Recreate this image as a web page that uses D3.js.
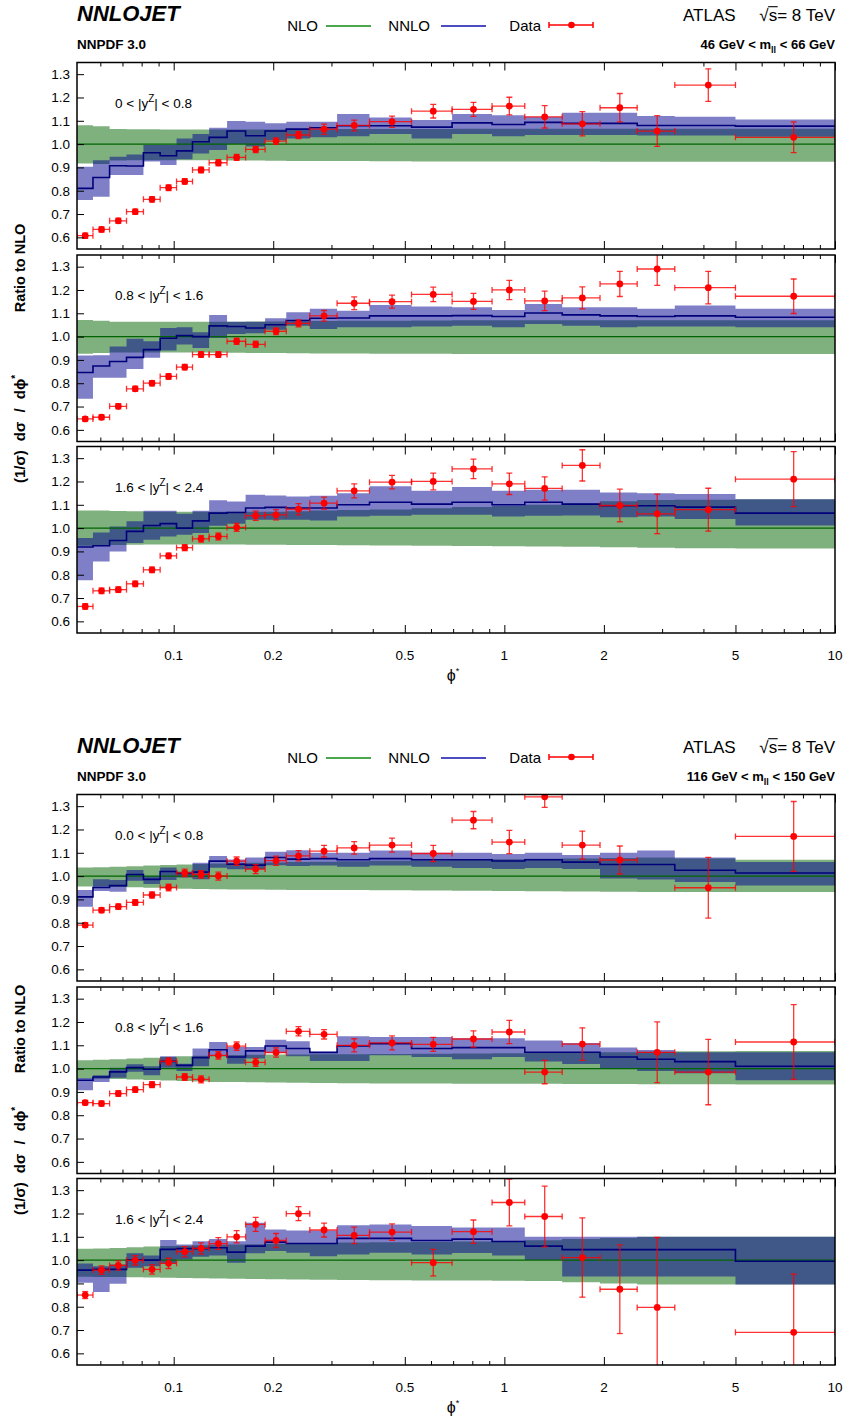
<!DOCTYPE html>
<html><head><meta charset="utf-8">
<script src="https://cdn.jsdelivr.net/npm/d3@7"></script>
<style>
body{margin:0;background:#fff}
svg text{font-family:"Liberation Sans",Arial,Helvetica,sans-serif;fill:#000}
</style>
</head><body>
<svg id="chart" width="845" height="1420"></svg>
<script>
// phi* bin edges (ATLAS 8 TeV binning, visible range)
const binEdges = [0.051,0.057,0.064,0.072,0.081,0.091,0.102,0.114,0.128,0.145,0.165,0.189,0.219,0.258,0.312,0.391,0.524,0.695,0.918,1.153,1.496,1.947,2.522,3.277,5,10];

const xMajorTicks = [0.1,0.2,0.5,1,2,5,10];
const xMinorTicks = [0.06,0.07,0.08,0.09,0.3,0.4,0.6,0.7,0.8,0.9,3,4,6,7,8,9];
const xTickLabels = ["0.1","0.2","0.5","1","2","5","10"];
const yTicks = [0.6,0.7,0.8,0.9,1.0,1.1,1.2,1.3];

const massLabels = [["46","66"],["116","150"]];
const rapLabels = [["0","0.8"],["0.8","1.6"],["1.6","2.4"],["0.0","0.8"],["0.8","1.6"],["1.6","2.4"]];

// ---- 46 GeV < mll < 66 GeV, 0 < |y| < 0.8
const a1NloUp = [1.081,1.077,1.065,1.064,1.064,1.063,1.063,1.063,1.063,1.063,1.063,1.063,1.063,1.064,1.065,1.065,1.065,1.066,1.066,1.066,1.066,1.066,1.066,1.066,1.066];
const a1NloDn = [0.917,0.915,0.930,0.931,0.931,0.931,0.931,0.931,0.931,0.930,0.930,0.929,0.928,0.928,0.927,0.926,0.925,0.925,0.925,0.925,0.925,0.924,0.924,0.924,0.924];
const a1Nnlo   = [0.810,0.857,0.907,0.906,0.963,0.950,0.971,1.010,1.029,1.056,1.036,1.056,1.064,1.070,1.079,1.079,1.073,1.091,1.084,1.093,1.089,1.089,1.080,1.080,1.077];
const a1NnloUp = [0.903,0.931,0.946,0.955,0.996,0.996,1.024,1.043,1.070,1.099,1.096,1.089,1.096,1.096,1.129,1.114,1.103,1.129,1.124,1.117,1.134,1.134,1.120,1.117,1.106];
const a1NnloDn = [0.760,0.774,0.867,0.867,0.925,0.910,0.935,0.960,0.975,1.000,0.990,1.017,1.024,1.029,1.034,1.043,1.024,1.043,1.034,1.039,1.039,1.039,1.037,1.037,1.031];
const a1Data   = [0.607,0.634,0.671,0.710,0.763,0.813,0.840,0.889,0.920,0.943,0.977,1.013,1.039,1.064,1.080,1.096,1.141,1.149,1.163,1.117,1.087,1.156,1.056,1.253,1.029];
const a1Err    = [0.011,0.011,0.011,0.011,0.012,0.012,0.012,0.012,0.013,0.013,0.013,0.014,0.015,0.022,0.023,0.024,0.029,0.030,0.038,0.048,0.052,0.061,0.066,0.070,0.066];

// ---- 46 GeV < mll < 66 GeV, 0.8 < |y| < 1.6
const a2NloUp = [1.071,1.068,1.064,1.064,1.064,1.064,1.064,1.064,1.064,1.064,1.065,1.065,1.066,1.067,1.068,1.068,1.069,1.070,1.070,1.070,1.070,1.070,1.070,1.070,1.070];
const a2NloDn = [0.926,0.930,0.932,0.932,0.932,0.932,0.932,0.932,0.931,0.931,0.930,0.930,0.929,0.928,0.927,0.926,0.926,0.925,0.925,0.925,0.925,0.925,0.925,0.925,0.925];
const a2Nnlo   = [0.846,0.874,0.893,0.911,0.944,0.993,1.004,1.000,1.046,1.043,1.037,1.051,1.069,1.079,1.080,1.089,1.089,1.090,1.086,1.101,1.093,1.089,1.086,1.089,1.083];
const a2NnloUp = [0.919,0.920,0.957,0.991,0.980,1.037,1.040,1.019,1.093,1.064,1.064,1.079,1.104,1.119,1.111,1.136,1.129,1.126,1.114,1.140,1.126,1.126,1.119,1.133,1.119];
const a2NnloDn = [0.733,0.823,0.823,0.861,0.909,0.940,0.966,0.951,0.994,1.011,1.014,1.029,1.047,1.033,1.040,1.040,1.043,1.047,1.040,1.054,1.046,1.040,1.043,1.043,1.040];
const a2Data   = [0.647,0.654,0.701,0.776,0.800,0.829,0.869,0.923,0.923,0.980,0.967,1.023,1.057,1.089,1.143,1.150,1.181,1.151,1.200,1.153,1.166,1.226,1.290,1.210,1.173];
const a2Err    = [0.010,0.010,0.011,0.011,0.011,0.012,0.012,0.012,0.012,0.013,0.013,0.014,0.015,0.023,0.027,0.028,0.031,0.034,0.041,0.042,0.047,0.054,0.070,0.070,0.074];

// ---- 46 GeV < mll < 66 GeV, 1.6 < |y| < 2.4
const a3NloUp = [1.076,1.075,1.073,1.072,1.070,1.070,1.070,1.070,1.070,1.070,1.070,1.070,1.072,1.075,1.078,1.080,1.085,1.090,1.095,1.100,1.105,1.115,1.120,1.122,1.124];
const a3NloDn = [0.924,0.926,0.928,0.929,0.930,0.930,0.930,0.930,0.930,0.930,0.929,0.929,0.928,0.927,0.926,0.925,0.924,0.923,0.922,0.921,0.920,0.918,0.916,0.914,0.912];
const a3Nnlo   = [0.919,0.924,0.947,0.986,1.011,1.019,1.000,1.031,1.064,1.067,1.086,1.089,1.086,1.086,1.100,1.111,1.103,1.111,1.100,1.111,1.103,1.096,1.096,1.090,1.064];
const a3NnloUp = [0.957,0.981,1.007,1.029,1.074,1.074,1.061,1.074,1.119,1.114,1.143,1.140,1.136,1.139,1.150,1.179,1.160,1.176,1.160,1.164,1.164,1.153,1.150,1.146,1.124];
const a3NnloDn = [0.776,0.857,0.900,0.936,0.950,0.964,0.971,0.979,1.010,1.019,1.036,1.036,1.036,1.033,1.050,1.053,1.057,1.057,1.050,1.053,1.054,1.046,1.050,1.039,1.011];
const a3Data   = [0.664,0.731,0.736,0.761,0.821,0.881,0.916,0.954,0.964,1.003,1.053,1.057,1.081,1.107,1.160,1.197,1.200,1.254,1.190,1.170,1.269,1.097,1.061,1.079,1.210];
const a3Err    = [0.012,0.012,0.012,0.012,0.012,0.012,0.013,0.014,0.015,0.017,0.020,0.022,0.024,0.026,0.030,0.029,0.036,0.042,0.046,0.050,0.067,0.070,0.085,0.092,0.118];

// ---- 116 GeV < mll < 150 GeV, 0 < |y| < 0.8
const b1NloUp = [1.037,1.038,1.040,1.042,1.045,1.048,1.050,1.052,1.054,1.056,1.057,1.058,1.060,1.062,1.064,1.066,1.068,1.070,1.072,1.074,1.076,1.078,1.080,1.075,1.070];
const b1NloDn = [0.955,0.955,0.953,0.952,0.950,0.948,0.946,0.945,0.944,0.943,0.942,0.941,0.940,0.940,0.940,0.939,0.938,0.937,0.936,0.935,0.934,0.933,0.932,0.932,0.932];
const b1Nnlo   = [0.911,0.951,0.959,1.007,0.986,1.020,1.011,1.017,1.064,1.051,1.047,1.080,1.073,1.075,1.070,1.075,1.070,1.070,1.065,1.070,1.060,1.050,1.050,1.025,1.013];
const b1NnloUp = [0.940,0.986,0.983,1.026,1.000,1.037,1.019,1.057,1.086,1.071,1.080,1.104,1.111,1.100,1.100,1.110,1.100,1.100,1.095,1.100,1.090,1.100,1.110,1.080,1.060];
const b1NnloDn = [0.869,0.936,0.933,0.980,0.966,0.983,0.994,0.986,1.036,1.029,1.029,1.047,1.043,1.045,1.040,1.045,1.040,1.035,1.030,1.035,1.030,0.990,0.985,0.975,0.960];
const b1Data   = [0.790,0.854,0.869,0.887,0.919,0.951,1.014,1.007,1.000,1.064,1.030,1.066,1.087,1.107,1.121,1.133,1.097,1.240,1.146,1.340,1.133,1.069,null,0.950,1.170];
const b1Err    = [0.010,0.011,0.012,0.012,0.013,0.014,0.016,0.016,0.017,0.018,0.019,0.020,0.022,0.025,0.027,0.030,0.035,0.037,0.050,0.045,0.060,0.060,0.080,0.130,0.150];

// ---- 116 GeV < mll < 150 GeV, 0.8 < |y| < 1.6
const b2NloUp = [1.036,1.038,1.040,1.043,1.046,1.050,1.053,1.055,1.057,1.058,1.059,1.060,1.060,1.061,1.062,1.063,1.064,1.065,1.066,1.067,1.068,1.070,1.072,1.074,1.076];
const b2NloDn = [0.957,0.956,0.955,0.953,0.951,0.949,0.947,0.945,0.943,0.942,0.941,0.940,0.939,0.938,0.937,0.936,0.936,0.935,0.935,0.935,0.934,0.934,0.933,0.933,0.932];
const b2Nnlo   = [0.950,0.964,0.986,1.004,0.997,1.031,1.014,1.047,1.081,1.050,1.076,1.097,1.086,1.069,1.097,1.107,1.086,1.090,1.090,1.070,1.070,1.050,1.040,1.030,1.010];
const b2NnloUp = [0.960,0.971,1.004,1.019,1.010,1.053,1.021,1.086,1.114,1.093,1.093,1.124,1.117,1.074,1.139,1.136,1.136,1.130,1.130,1.120,1.110,1.090,1.080,1.070,1.070];
const b2NnloDn = [0.907,0.943,0.961,0.986,0.971,1.004,0.990,1.010,1.053,1.021,1.043,1.067,1.053,1.033,1.033,1.057,1.050,1.040,1.050,1.030,1.020,1.000,0.990,0.980,0.950];
const b2Data   = [0.854,0.850,0.893,0.910,0.931,1.031,0.964,0.954,1.057,1.096,1.027,1.069,1.160,1.147,1.100,1.110,1.104,1.127,1.157,0.985,1.105,null,1.070,0.985,1.114];
const b2Err    = [0.010,0.011,0.012,0.012,0.013,0.015,0.014,0.015,0.016,0.018,0.017,0.020,0.020,0.020,0.028,0.030,0.030,0.035,0.050,0.050,0.070,0.070,0.130,0.140,0.160];

// ---- 116 GeV < mll < 150 GeV, 1.6 < |y| < 2.4
const b3NloUp = [1.049,1.050,1.052,1.055,1.058,1.060,1.062,1.064,1.066,1.067,1.068,1.070,1.072,1.073,1.075,1.077,1.078,1.080,1.082,1.085,1.090,1.095,1.100,1.100,1.100];
const b3NloDn = [0.929,0.928,0.927,0.926,0.925,0.924,0.923,0.922,0.921,0.920,0.919,0.918,0.917,0.916,0.915,0.914,0.913,0.912,0.911,0.910,0.905,0.900,0.895,0.895,0.895];
const b3Nnlo   = [0.957,0.960,0.960,1.000,1.000,1.046,1.049,1.049,1.053,1.034,1.060,1.077,1.071,1.071,1.093,1.093,1.084,1.090,1.080,1.060,1.045,1.045,1.045,1.045,0.995];
const b3NnloUp = [0.985,0.974,0.981,1.029,1.020,1.086,1.067,1.081,1.091,1.081,1.160,1.131,1.127,1.127,1.149,1.153,1.146,1.140,1.140,1.100,1.100,1.100,1.100,1.100,1.100];
const b3NnloDn = [0.903,0.863,0.899,0.967,0.974,0.984,1.003,1.014,1.020,0.989,1.029,1.039,1.031,1.017,1.024,1.031,1.024,1.030,1.020,1.000,0.930,0.930,0.930,0.930,0.895];
const b3Data   = [0.850,0.957,0.977,0.999,0.960,0.986,1.036,1.050,1.071,1.100,1.153,1.084,1.199,1.129,1.106,1.120,0.989,1.122,1.247,1.187,1.011,0.875,0.797,null,0.690];
const b3Err    = [0.015,0.018,0.020,0.020,0.020,0.022,0.022,0.024,0.025,0.026,0.030,0.030,0.030,0.030,0.035,0.035,0.057,0.050,0.100,0.130,0.170,0.190,0.300,0.300,0.250];

const panelSets = [
  {fig:0,row:0,nloUp:a1NloUp,nloDn:a1NloDn,nnlo:a1Nnlo,nnloUp:a1NnloUp,nnloDn:a1NnloDn,data:a1Data,err:a1Err},
  {fig:0,row:1,nloUp:a2NloUp,nloDn:a2NloDn,nnlo:a2Nnlo,nnloUp:a2NnloUp,nnloDn:a2NnloDn,data:a2Data,err:a2Err},
  {fig:0,row:2,nloUp:a3NloUp,nloDn:a3NloDn,nnlo:a3Nnlo,nnloUp:a3NnloUp,nnloDn:a3NnloDn,data:a3Data,err:a3Err},
  {fig:1,row:0,nloUp:b1NloUp,nloDn:b1NloDn,nnlo:b1Nnlo,nnloUp:b1NnloUp,nnloDn:b1NnloDn,data:b1Data,err:b1Err},
  {fig:1,row:1,nloUp:b2NloUp,nloDn:b2NloDn,nnlo:b2Nnlo,nnloUp:b2NnloUp,nnloDn:b2NnloDn,data:b2Data,err:b2Err},
  {fig:1,row:2,nloUp:b3NloUp,nloDn:b3NloDn,nnlo:b3Nnlo,nnloUp:b3NnloUp,nnloDn:b3NnloDn,data:b3Data,err:b3Err}
];

// ---------- layout ----------
const svg = d3.select("#chart");
const L = 77, R = 835, PH = 186.5;
const rowTop = [62.5, 255, 446.5];
const figTop = [0, 732];
const x = d3.scaleLog().domain([0.051, 10]).range([L, R]);
const nBins = binEdges.length - 1;

const COL_NLO = "rgb(0,100,0)", COL_NNLO = "rgb(0,0,145)";
const LINE_NLO = "#006400", LINE_NNLO = "#00007a", RED = "#ff0000";

const defs = svg.append("defs");

function stepRows(arrs) {
  return binEdges.map((e, i) => {
    const j = Math.min(i, nBins - 1);
    const o = {e};
    for (const k in arrs) o[k] = arrs[k][j];
    return o;
  });
}

panelSets.forEach((p, k) => {
  const top = figTop[p.fig] + rowTop[p.row];
  const y = d3.scaleLinear().domain([0.55, 1.35]).range([top + PH, top]);
  const clipId = "clip" + k;
  defs.append("clipPath").attr("id", clipId)
    .append("rect").attr("x", L).attr("y", top).attr("width", R - L).attr("height", PH);

  const body = svg.append("g").attr("clip-path", `url(#${clipId})`);
  const area = d3.area().curve(d3.curveStepAfter)
    .x(d => x(d.e)).y0(d => y(d.dn)).y1(d => y(d.up));
  const step = d3.line().curve(d3.curveStepAfter).x(d => x(d.e)).y(d => y(d.v));

  // NLO scale band
  body.append("path").datum(stepRows({up: p.nloUp, dn: p.nloDn}))
    .attr("d", area).attr("fill", COL_NLO).attr("fill-opacity", 0.5);
  // NNLO scale band
  body.append("path").datum(stepRows({up: p.nnloUp, dn: p.nnloDn}))
    .attr("d", area).attr("fill", COL_NNLO).attr("fill-opacity", 0.5);
  // NLO central (ratio = 1)
  body.append("path").datum(stepRows({v: p.nloUp.map(() => 1)}))
    .attr("d", step).attr("fill", "none").attr("stroke", LINE_NLO).attr("stroke-width", 1.3);
  // NNLO central
  body.append("path").datum(stepRows({v: p.nnlo}))
    .attr("d", step).attr("fill", "none").attr("stroke", LINE_NNLO).attr("stroke-width", 1.6);

  // data with error bars
  const pts = p.data.map((v, i) => ({v, e: p.err[i], lo: binEdges[i], hi: binEdges[i + 1]}))
    .filter(d => d.v !== null);
  const dg = body.selectAll("g.pt").data(pts).join("g").attr("class", "pt")
    .attr("stroke", RED).attr("stroke-width", 1.3).attr("stroke-opacity", 0.8);
  const cap = 3;
  dg.append("line").attr("x1", d => x(d.lo)).attr("x2", d => x(d.hi))
    .attr("y1", d => y(d.v)).attr("y2", d => y(d.v));
  dg.append("line").attr("x1", d => x(d.lo)).attr("x2", d => x(d.lo))
    .attr("y1", d => y(d.v) - cap).attr("y2", d => y(d.v) + cap);
  dg.append("line").attr("x1", d => x(d.hi)).attr("x2", d => x(d.hi))
    .attr("y1", d => y(d.v) - cap).attr("y2", d => y(d.v) + cap);
  const xc = d => x((d.lo + d.hi) / 2);
  dg.append("line").attr("x1", xc).attr("x2", xc)
    .attr("y1", d => y(d.v - d.e)).attr("y2", d => y(d.v + d.e));
  dg.append("line").attr("x1", d => xc(d) - cap).attr("x2", d => xc(d) + cap)
    .attr("y1", d => y(d.v - d.e)).attr("y2", d => y(d.v - d.e));
  dg.append("line").attr("x1", d => xc(d) - cap).attr("x2", d => xc(d) + cap)
    .attr("y1", d => y(d.v + d.e)).attr("y2", d => y(d.v + d.e));
  dg.append("circle").attr("cx", xc).attr("cy", d => y(d.v)).attr("r", 3.4)
    .attr("fill", RED).attr("stroke", "none");

  // axes: ticks drawn inward via d3 axes
  const ax = svg.append("g");
  const tickStyle = g => { g.select(".domain").remove(); g.selectAll("line").attr("stroke", "#000").attr("stroke-width", 1); };
  ax.append("g").attr("transform", `translate(0,${top + PH})`)
    .call(d3.axisTop(x).tickValues(xMajorTicks).tickSize(8).tickFormat("")).call(tickStyle);
  ax.append("g").attr("transform", `translate(0,${top + PH})`)
    .call(d3.axisTop(x).tickValues(xMinorTicks).tickSize(4).tickFormat("")).call(tickStyle);
  ax.append("g").attr("transform", `translate(0,${top})`)
    .call(d3.axisBottom(x).tickValues(xMajorTicks).tickSize(8).tickFormat("")).call(tickStyle);
  ax.append("g").attr("transform", `translate(0,${top})`)
    .call(d3.axisBottom(x).tickValues(xMinorTicks).tickSize(4).tickFormat("")).call(tickStyle);
  ax.append("g").attr("transform", `translate(${L},0)`)
    .call(d3.axisRight(y).tickValues(yTicks).tickSize(7).tickFormat("")).call(tickStyle);
  yTicks.forEach(t => {
    ax.append("text").attr("x", L - 7).attr("y", y(t) + 4.8).attr("text-anchor", "end")
      .attr("font-size", 13.5).text(d3.format(".1f")(t));
  });
  ax.append("rect").attr("x", L).attr("y", top).attr("width", R - L).attr("height", PH)
    .attr("fill", "none").attr("stroke", "#000").attr("stroke-width", 1.5);

  // rapidity label
  const rl = rapLabels[k];
  const t = ax.append("text").attr("x", 115).attr("y", top + 45).attr("font-size", 13.5);
  t.append("tspan").text(`${rl[0]} < |y`);
  t.append("tspan").attr("dy", -6).attr("font-size", 10).text("Z");
  t.append("tspan").attr("dy", 6).text(`| < ${rl[1]}`);

  // x tick labels on the bottom panel
  if (p.row === 2) {
    xMajorTicks.forEach((v, i) => {
      ax.append("text").attr("x", x(v)).attr("y", top + PH + 27).attr("text-anchor", "middle")
        .attr("font-size", 13.5).text(xTickLabels[i]);
    });
    const xl = ax.append("text").attr("x", (L + R) / 2 - 3).attr("y", top + PH + 48)
      .attr("text-anchor", "middle").attr("font-size", 16);
    xl.append("tspan").text("ϕ");
    xl.append("tspan").attr("dy", -7).attr("font-size", 9).text("*");
  }
});

// ---------- headers, legends, axis titles ----------
const yTitleRatio = [268, 1029];
const yTitleNorm = [429, 1161];

figTop.forEach((ft, f) => {
  const g = svg.append("g").attr("transform", `translate(0,${ft})`);
  g.append("text").attr("x", L).attr("y", 21).attr("font-size", 22)
    .attr("font-weight", "bold").attr("font-style", "italic").text("NNLOJET");
  g.append("text").attr("x", L).attr("y", 49).attr("font-size", 13.5)
    .attr("font-weight", "bold").text("NNPDF 3.0");

  g.append("text").attr("x", 683).attr("y", 21).attr("font-size", 17).text("ATLAS");
  const rs = g.append("text").attr("x", R).attr("y", 21).attr("text-anchor", "end")
    .attr("font-size", 17).text("√s= 8 TeV");
  // overline of the square root over "s"
  const sBox = rs.node().getExtentOfChar(1);
  g.append("line").attr("x1", sBox.x - 0.5).attr("x2", sBox.x + sBox.width + 0.5)
    .attr("y1", 21 - 14.3).attr("y2", 21 - 14.3).attr("stroke", "#000").attr("stroke-width", 1.1);

  const ml = massLabels[f];
  const mt = g.append("text").attr("x", R).attr("y", 49).attr("text-anchor", "end")
    .attr("font-size", 13).attr("font-weight", "bold");
  mt.append("tspan").text(`${ml[0]} GeV < m`);
  mt.append("tspan").attr("dy", 4).attr("font-size", 9).text("ll");
  mt.append("tspan").attr("dy", -4).text(` < ${ml[1]} GeV`);

  // legend
  const ly = 26;
  g.append("text").attr("x", 318).attr("y", ly + 5).attr("text-anchor", "end").attr("font-size", 15).text("NLO");
  g.append("line").attr("x1", 326).attr("x2", 371).attr("y1", ly).attr("y2", ly)
    .attr("stroke", "#118811").attr("stroke-width", 1.5);
  g.append("text").attr("x", 430).attr("y", ly + 5).attr("text-anchor", "end").attr("font-size", 15).text("NNLO");
  g.append("line").attr("x1", 441).attr("x2", 486).attr("y1", ly).attr("y2", ly)
    .attr("stroke", "#1111aa").attr("stroke-width", 1.5);
  g.append("text").attr("x", 541).attr("y", ly + 5).attr("text-anchor", "end").attr("font-size", 15).text("Data");
  const lg = g.append("g").attr("stroke", RED).attr("stroke-width", 1.5);
  lg.append("line").attr("x1", 549).attr("x2", 593).attr("y1", ly - 1).attr("y2", ly - 1);
  lg.append("line").attr("x1", 549).attr("x2", 549).attr("y1", ly - 4).attr("y2", ly + 2);
  lg.append("line").attr("x1", 593).attr("x2", 593).attr("y1", ly - 4).attr("y2", ly + 2);
  lg.append("circle").attr("cx", 571.5).attr("cy", ly - 1).attr("r", 3.3).attr("fill", RED).attr("stroke", "none");
});

// y axis titles (rotated), two parts per figure
[0, 1].forEach(f => {
  svg.append("text").attr("transform", `translate(25,${yTitleRatio[f]}) rotate(-90)`)
    .attr("text-anchor", "middle").attr("font-size", 14.5).attr("font-weight", "bold")
    .text("Ratio to NLO");
  const yt = svg.append("text").attr("transform", `translate(25,${yTitleNorm[f]}) rotate(-90)`)
    .attr("text-anchor", "middle").attr("font-size", 15).attr("font-weight", "bold")
    .attr("word-spacing", 5);
  yt.append("tspan").text("(1/σ) dσ / dϕ");
  yt.append("tspan").attr("dy", -6).attr("font-size", 10).text("*");
});
</script>
</body></html>
